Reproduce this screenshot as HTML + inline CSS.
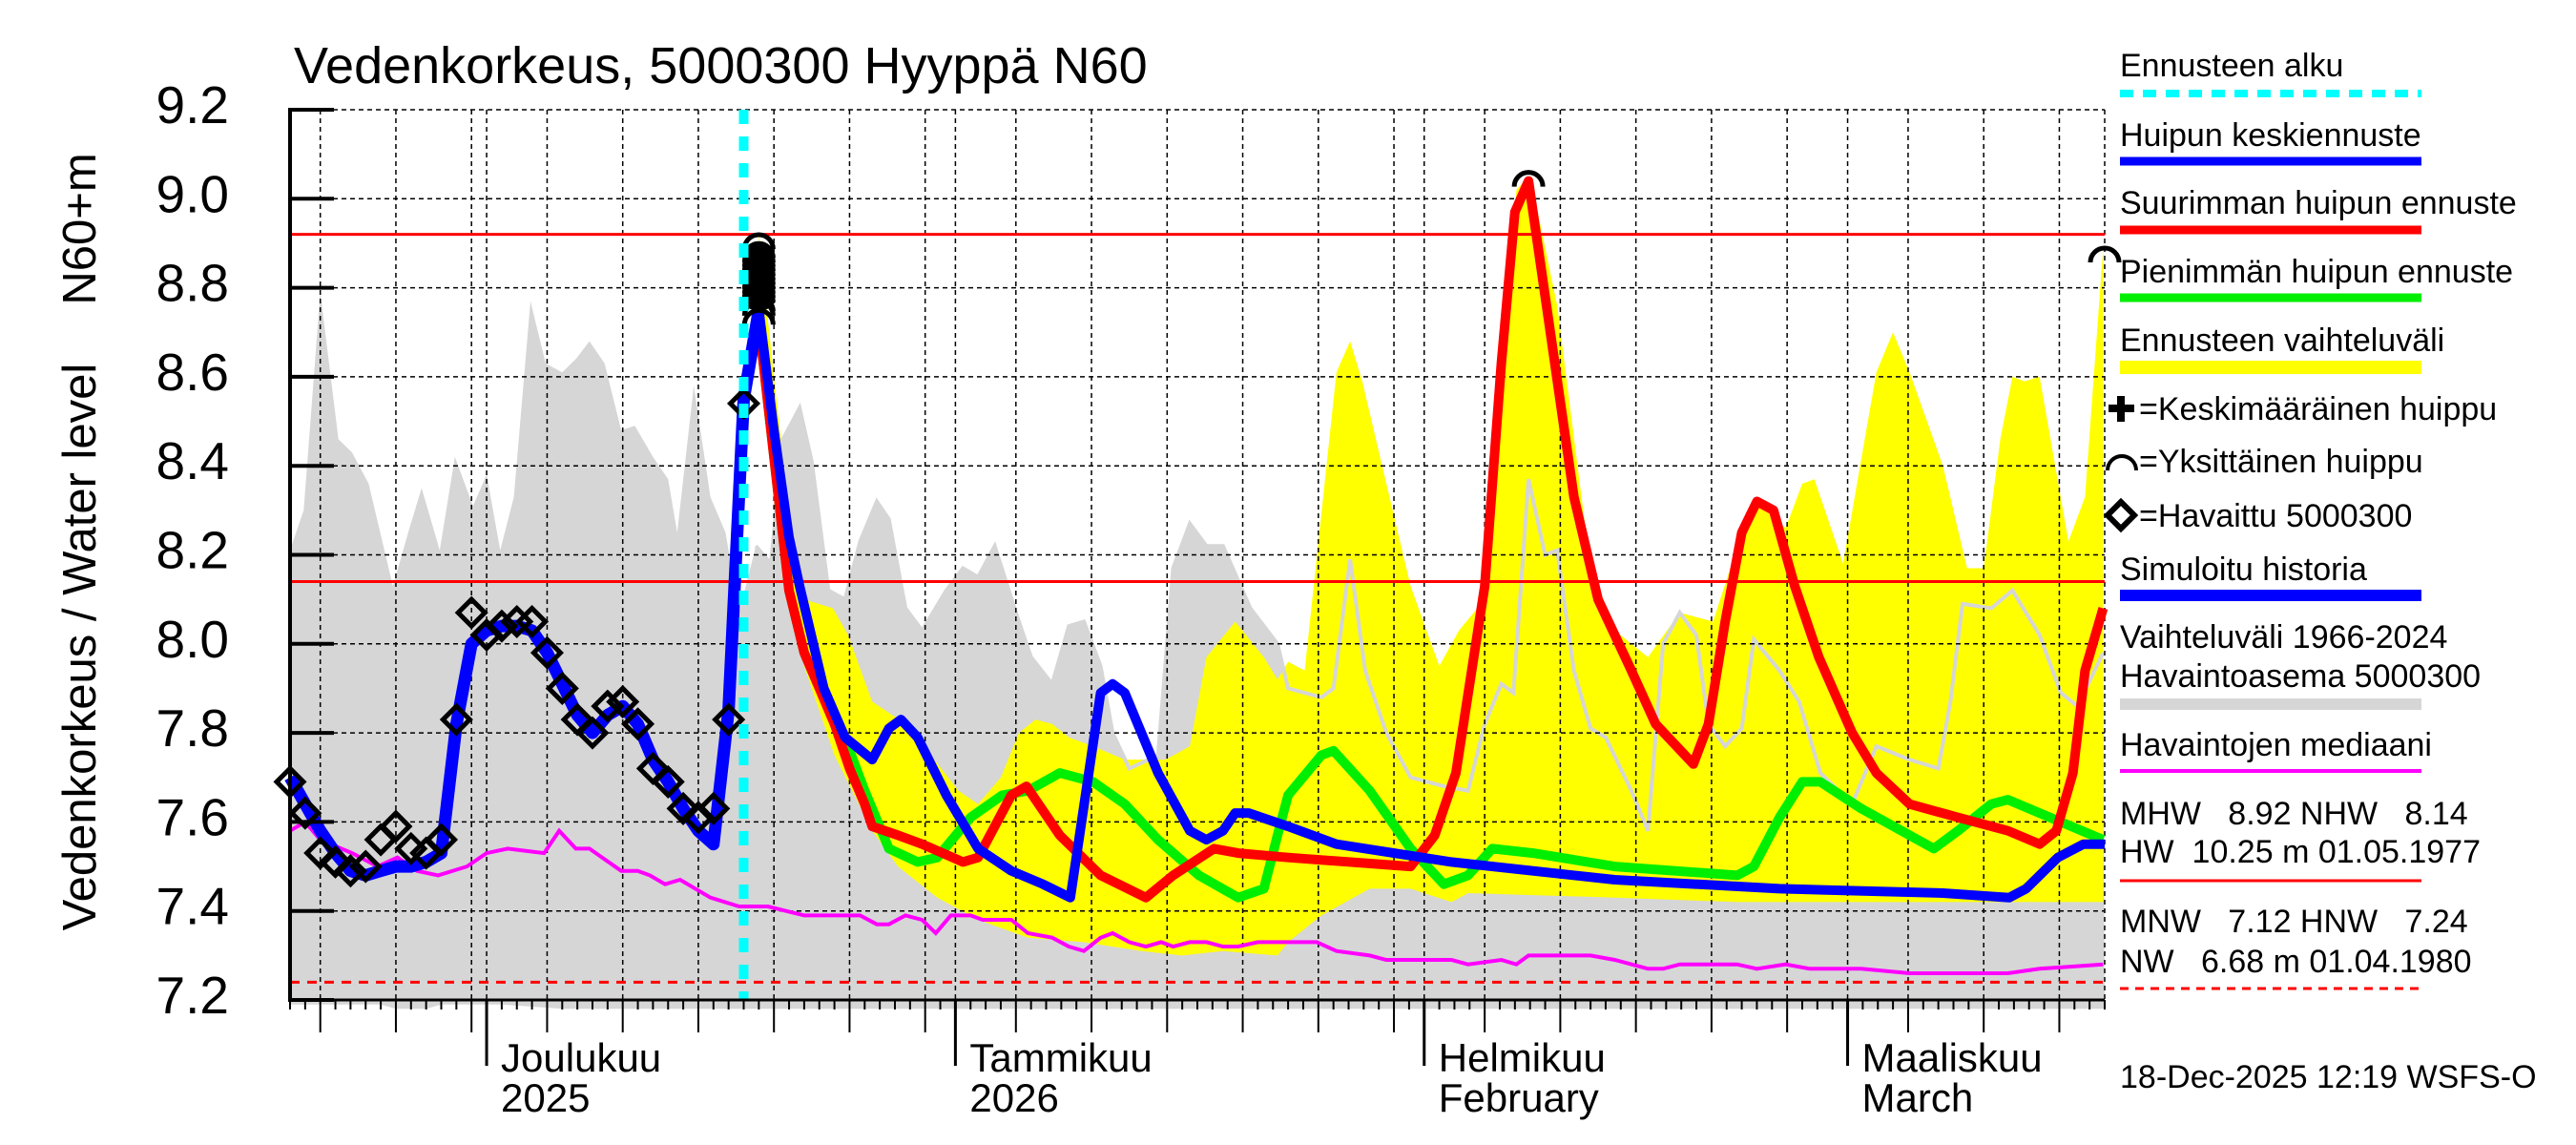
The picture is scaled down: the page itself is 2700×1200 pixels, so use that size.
<!DOCTYPE html>
<html><head><meta charset="utf-8"><style>
html,body{margin:0;padding:0;background:#fff;}
svg{display:block;font-family:"Liberation Sans",sans-serif;}
</style></head><body>
<svg id="chart" width="2700" height="1200" viewBox="0 0 2700 1200" xmlns="http://www.w3.org/2000/svg">
<text x="308" y="87" font-size="54">Vedenkorkeus, 5000300 Hyyppä N60</text>
<text transform="translate(100,678) rotate(-90)" text-anchor="middle" font-size="49">Vedenkorkeus / Water level</text>
<text transform="translate(100,240) rotate(-90)" text-anchor="middle" font-size="49">N60+m</text>
<g id="plot"></g>
<g id="legend"></g>
</svg>
<script>
// ---- data (day index = days since 18 Nov 2025) ----
const obsDays=[0,1,2,3,4,5,6,7,8,9,10,11,12,13,14,15,16,17,18,19,20,21,22,23,24,25,26,27,28,29,30];
const obsVals=[7.69,7.62,7.53,7.51,7.49,7.50,7.56,7.59,7.54,7.53,7.56,7.83,8.07,8.02,8.04,8.05,8.05,7.98,7.90,7.83,7.80,7.86,7.87,7.82,7.72,7.69,7.63,7.61,7.63,7.83,8.54];
const simDays=[0,1,2,3,4,5,6,7,8,9,10,11,12,13,14,15,16,17,18,19,20,21,22,23,24,25,26,27,28,29,30,31];
const simVals=[7.70,7.64,7.58,7.53,7.49,7.48,7.49,7.50,7.50,7.51,7.53,7.82,8.00,8.03,8.04,8.04,8.03,7.98,7.91,7.84,7.80,7.84,7.86,7.82,7.74,7.69,7.63,7.58,7.55,7.85,8.55,8.75];
const meanDays=[31,32,33,33.7,35.3,36.7,38.5,39.6,40.4,41.5,43.4,45.5,47.7,49.8,51.6,53.6,54.4,55.2,57.4,59.5,60.6,61.7,62.5,63.4,66,69.2,76.8,87.6,98.5,109.3,113.7,114.8,116.9,118.6,120];
const meanVals=[8.75,8.48,8.24,8.13,7.90,7.79,7.74,7.81,7.83,7.79,7.66,7.54,7.49,7.46,7.43,7.89,7.91,7.89,7.71,7.58,7.56,7.58,7.62,7.62,7.59,7.55,7.51,7.47,7.45,7.44,7.43,7.45,7.52,7.55,7.55];
const maxDays=[31,32,33,34,35,36,37,38,38.5,40.2,41.8,44.5,45.5,47.7,48.7,50.9,53.6,56.6,58.4,61.1,62.7,66,74.1,75.7,77.1,79,80.1,81,81.9,83.3,84.9,86.5,88.7,90.3,92.8,93.8,94.9,96,97,98.1,99.5,101.1,103.3,104.9,107.1,110.3,113.6,115.7,116.8,117.9,118.7,119.9];
const maxVals=[8.72,8.42,8.12,7.98,7.90,7.82,7.72,7.64,7.59,7.57,7.55,7.51,7.52,7.66,7.68,7.57,7.48,7.43,7.48,7.54,7.53,7.52,7.50,7.57,7.71,8.13,8.63,8.97,9.04,8.71,8.33,8.10,7.94,7.82,7.73,7.82,8.05,8.25,8.32,8.30,8.13,7.97,7.80,7.71,7.64,7.61,7.58,7.55,7.58,7.71,7.94,8.08];
const minDays=[31,32,33,34,35,36,37,38,39.6,41.5,42.8,45,47.1,48.8,50.9,53.1,55.2,57.4,60.1,62.7,64.4,65.3,66,68.2,69,71.4,74.1,76.3,77.9,79.5,82.2,87.6,95.7,96.8,98.5,100,101.2,103.9,108.7,110.3,112.5,113.6,115.7,119.9];
const minVals=[8.72,8.42,8.12,7.98,7.90,7.84,7.76,7.67,7.54,7.51,7.52,7.61,7.66,7.67,7.71,7.69,7.64,7.56,7.48,7.43,7.45,7.57,7.66,7.75,7.76,7.67,7.54,7.46,7.48,7.54,7.53,7.50,7.48,7.50,7.61,7.69,7.69,7.63,7.54,7.58,7.64,7.65,7.62,7.56];
const bandUpDays=[31,32,33,34,35.9,36.9,38.5,40.7,42.6,44.2,45.5,47,48.2,49.3,50.4,51.5,53.1,55.2,57.9,59.5,60.6,62.5,64.4,65.3,66,67.1,69.2,70.1,70.9,72.5,74.1,76,77.3,79,80.1,81.1,81.9,82.2,83.8,86,87.6,89.8,91.9,94.1,96,97,98.9,100,100.8,102.7,104.9,106,107.1,109.3,110.9,112,113.1,113.9,114.7,115.7,117.6,118.7,119.9];
const bandUpVals=[8.92,8.60,8.30,8.10,8.08,8.02,7.87,7.82,7.74,7.67,7.64,7.70,7.80,7.83,7.82,7.79,7.77,7.74,7.74,7.77,7.97,8.05,7.97,7.92,7.96,7.94,8.61,8.68,8.59,8.36,8.13,7.95,8.03,8.10,8.53,9.02,9.05,9.02,8.76,8.17,8.03,7.97,8.07,8.05,8.25,8.32,8.26,8.36,8.37,8.18,8.61,8.70,8.61,8.40,8.17,8.17,8.46,8.60,8.59,8.60,8.23,8.33,8.89];
const bandLoDays=[31,32,33,34,36,38.5,40.2,42.8,45.5,48.8,52.5,56.3,59,61.7,65.3,66,68.2,71.4,74.1,76.8,77.9,87.6,95.7,103.9,119.9];
const bandLoVals=[8.72,8.42,8.10,7.95,7.75,7.58,7.50,7.43,7.38,7.34,7.33,7.31,7.30,7.31,7.30,7.33,7.39,7.45,7.45,7.42,7.44,7.43,7.42,7.42,7.42];
const histMaxDays=[0,0.9,2,3.2,4.1,5.2,6.8,7.9,8.7,9.9,10.9,12.1,13,13.9,14.8,15.9,16.9,18,18.9,19.8,20.8,21.9,22.8,24,25,25.6,26.7,27.8,28.8,29.7,30.8,31.8,32.6,33.7,34.5,35.6,36.7,37.7,38.8,39.6,40.7,41.8,43.4,44.5,45.5,46.6,48,49,50.4,51.5,52.5,53.6,54.4,55.5,57.4,58.4,59.5,60.6,61.7,63.5,65.3,66,68.2,69,70.1,71.1,72.5,74.1,76.3,77.9,79,80.1,80.9,81.9,83,83.8,84.9,86,87,88.7,89.8,90.8,91.9,93,93.8,94.9,96,96.8,98.5,99.8,101.2,103.3,104.9,107.1,109,109.8,110.6,112.5,113.9,115.7,117.1,118.2,119.9];
const histMaxVals=[8.21,8.30,8.79,8.46,8.43,8.36,8.13,8.26,8.35,8.21,8.42,8.31,8.38,8.21,8.33,8.77,8.63,8.61,8.64,8.68,8.63,8.48,8.49,8.42,8.37,8.25,8.58,8.33,8.25,8.07,8.22,8.18,8.46,8.53,8.41,8.12,8.10,8.23,8.32,8.28,8.08,8.03,8.12,8.17,8.15,8.22,8.07,7.97,7.91,8.04,8.05,7.95,7.80,7.72,7.75,8.17,8.27,8.22,8.22,8.08,8.00,7.90,7.88,7.90,8.19,7.94,7.80,7.70,7.68,7.67,7.82,7.91,7.89,8.37,8.20,8.21,7.94,7.81,7.79,7.67,7.58,8.00,8.07,8.02,7.82,7.77,7.81,8.01,7.94,7.87,7.71,7.64,7.77,7.74,7.72,7.87,8.09,8.08,8.12,8.02,7.89,7.86,7.98];
const histMinDays=[0,6,7,9,10,14,18,20,120];
const histMinVals=[7.19,7.19,7.18,7.18,7.19,7.19,7.18,7.18,7.18];
const medDays=[0,1,2,4.1,5.8,7.1,8.4,9.8,11.7,13,14.4,16.8,17.8,18.9,19.8,21.9,23,23.8,24.8,25.8,27.8,29.7,31.6,34,37.7,38.8,39.6,40.7,41.8,42.7,43.7,45,45.8,47.7,48.8,50.4,51.5,52.5,53.6,54.4,55.5,56.6,57.6,58.4,59.5,60.6,61.7,62.7,64,65.3,67.9,69.2,71.4,72.5,76.8,77.9,80.1,81.1,81.9,86,87.6,89.8,90.8,91.9,95.7,97,98.9,100.5,103.9,107.1,113.6,115.7,119.9];
const medVals=[7.58,7.60,7.56,7.53,7.50,7.52,7.49,7.48,7.50,7.53,7.54,7.53,7.58,7.54,7.54,7.49,7.49,7.48,7.46,7.47,7.43,7.41,7.41,7.39,7.39,7.37,7.37,7.39,7.38,7.35,7.39,7.39,7.38,7.38,7.35,7.34,7.32,7.31,7.34,7.35,7.33,7.32,7.33,7.32,7.33,7.33,7.32,7.32,7.33,7.33,7.33,7.31,7.30,7.29,7.29,7.28,7.29,7.28,7.30,7.30,7.29,7.27,7.27,7.28,7.28,7.27,7.28,7.27,7.27,7.26,7.26,7.27,7.28];
const peakDays=[31,31,31,31,31,31,31,31,31,31,31,31,31,31,31,81.9,120];
const peakVals=[8.73,8.75,8.76,8.78,8.79,8.80,8.81,8.82,8.83,8.84,8.85,8.86,8.87,8.88,8.90,9.04,8.87];
const levelVals=[8.92,8.14];
const hnwVal=7.24;
const forecastStartDay=30;
const yTicks=["7.2","7.4","7.6","7.8","8.0","8.2","8.4","8.6","8.8","9.0","9.2"];
const monthLabels=[["Joulukuu","2025"],["Tammikuu","2026"],["Helmikuu","February"],["Maaliskuu","March"]];
const monthDays=[13,44,75,103];

// ---- scales ----
const X0=304,X1=2206,Y0=1048,Y1=115,DMAX=120,VMIN=7.2,VMAX=9.2;
const X=d=>X0+d*(X1-X0)/DMAX;
const Y=v=>Y0-(v-VMIN)*(Y0-Y1)/(VMAX-VMIN);
const NS="http://www.w3.org/2000/svg";
const plot=document.getElementById('plot');
const leg=document.getElementById('legend');
function mk(tag,attrs,parent){const e=document.createElementNS(NS,tag);for(const k in attrs)e.setAttribute(k,attrs[k]);(parent||plot).appendChild(e);return e;}
const pts=(ds,vs)=>ds.map((d,i)=>X(d).toFixed(1)+','+Y(vs[i]).toFixed(1)).join(' ');

let e=mk('polygon',{points:pts(histMaxDays,histMaxVals)+' '+pts(histMinDays.slice().reverse(),histMinVals.slice().reverse()),fill:'#d6d6d6'});


e=mk('polygon',{points:pts(bandUpDays,bandUpVals)+' '+pts(bandLoDays.slice().reverse(),bandLoVals.slice().reverse()),fill:'#ffff00'});


const hi=histMaxDays.findIndex(d=>d>=forecastStartDay);
e=mk('polyline',{points:pts(histMaxDays.slice(hi),histMaxVals.slice(hi)),fill:'none',stroke:'#d6d6d6','stroke-width':4});



for(let i=1;i<yTicks.length;i++){const v=parseFloat(yTicks[i]);
 e=mk('line',{x1:X0,x2:X1,y1:Y(v),y2:Y(v),stroke:'#000','stroke-width':1.5,'stroke-dasharray':'5,4'});
 
 }
const start=new Date(2025,10,18);
for(let d=0;d<=DMAX;d++){
 const dt=new Date(start.getTime()+d*86400000);const dd=dt.getDate();
 const isMonth=dd===1, isGrid=[5,10,15,20,25,30].includes(dd);
 if((isMonth||isGrid)&&d>0&&d<DMAX){
  e=mk('line',{x1:X(d),x2:X(d),y1:Y1,y2:Y0,stroke:'#000','stroke-width':1.5,'stroke-dasharray':'5,4'});
  
  }
 const len=isMonth?69:(isGrid?34:10);
 e=mk('line',{x1:X(d),x2:X(d),y1:Y0,y2:Y0+len,stroke:'#000','stroke-width':isMonth?3:2});
 
 
}
e=mk('line',{x1:X1,x2:X1,y1:Y1,y2:Y0,stroke:'#000','stroke-width':1.5,'stroke-dasharray':'5,4'});



levelVals.forEach(v=>{e=mk('line',{x1:X0,x2:X1,y1:Y(v),y2:Y(v),stroke:'#ff0000','stroke-width':3});
 
 });
e=mk('line',{x1:X0,x2:X1,y1:Y(hnwVal),y2:Y(hnwVal),stroke:'#ff0000','stroke-width':3,'stroke-dasharray':'10,8'});



e=mk('polyline',{points:pts(medDays,medVals),fill:'none',stroke:'#ff00ff','stroke-width':4});



e=mk('polyline',{points:pts(minDays,minVals),fill:'none',stroke:'#00ee00','stroke-width':10,'stroke-linejoin':'round'});


e=mk('polyline',{points:pts(maxDays,maxVals),fill:'none',stroke:'#ff0000','stroke-width':10,'stroke-linejoin':'round'});


e=mk('polyline',{points:pts(meanDays,meanVals),fill:'none',stroke:'#0000ff','stroke-width':10,'stroke-linejoin':'round'});


e=mk('polyline',{points:pts(simDays,simVals),fill:'none',stroke:'#0000ff','stroke-width':13,'stroke-linejoin':'round'});



obsDays.forEach((d,i)=>{const x=X(d),y=Y(obsVals[i]),r=14;
 e=mk('polygon',{points:`${x},${y-r} ${x+r},${y} ${x},${y+r} ${x-r},${y}`,fill:'none',stroke:'#000','stroke-width':5});
 
 });

// black blob of clustered peak markers
e=mk('rect',{x:X(31)-16,y:Y(8.87),width:32,height:Y(8.75)-Y(8.87),rx:12,fill:'#000'});


peakDays.forEach((d,i)=>{const x=X(d),y=Y(peakVals[i]),r=15;
 e=mk('path',{d:`M${x-r},${y+6} A${r},${r} 0 0 1 ${x+r},${y+6}`,fill:'none',stroke:'#000','stroke-width':5});
 
 });

e=mk('line',{x1:X(forecastStartDay),x2:X(forecastStartDay),y1:Y1,y2:Y0,stroke:'#00ffff','stroke-width':10,'stroke-dasharray':'15,13'});



e=mk('line',{x1:X0,x2:X0,y1:Y1-2,y2:Y0+2,stroke:'#000','stroke-width':4});


e=mk('line',{x1:X0,x2:X1,y1:Y0,y2:Y0,stroke:'#000','stroke-width':3});


yTicks.forEach(t=>{const v=parseFloat(t);
 e=mk('line',{x1:X0,x2:X0+46,y1:Y(v),y2:Y(v),stroke:'#000','stroke-width':4});
 
 
 e=mk('text',{x:240,y:Y(v)+14,'text-anchor':'end','font-size':55});
 e.textContent=t;
 
 });
monthDays.forEach((d,i)=>{
 e=mk('text',{x:X(d)+15,y:1123,'font-size':42});e.textContent=monthLabels[i][0];
 
 
 e=mk('text',{x:X(d)+15,y:1165,'font-size':42});e.textContent=monthLabels[i][1];
 
 });

const LX=2222,LX2=2538;
function ltext(t,y,name){const el=mk('text',{x:LX,y:y,'font-size':34},leg);el.textContent=t;return el;}
function lline(y,col,w,dash,name){const el=mk('line',{x1:LX,x2:LX2,y1:y,y2:y,stroke:col,'stroke-width':w},leg);if(dash)el.setAttribute('stroke-dasharray',dash);}
ltext('Ennusteen alku',80,'legend-forecast-start');lline(98,'#00ffff',8,'14,10','legend-forecast-start-line');
ltext('Huipun keskiennuste',153,'legend-mean-peak');lline(169,'#0000ff',9,null,'legend-mean-peak-line');
ltext('Suurimman huipun ennuste',224,'legend-max-peak');lline(241,'#ff0000',9,null,'legend-max-peak-line');
ltext('Pienimmän huipun ennuste',296,'legend-min-peak');lline(312,'#00ee00',9,null,'legend-min-peak-line');
ltext('Ennusteen vaihteluväli',368,'legend-forecast-range');lline(385,'#ffff00',14,null,'legend-forecast-range-swatch');
e=mk('path',{d:'M2210,428 h27 M2223,415 v27',stroke:'#000','stroke-width':8,fill:'none'},leg);


e=mk('text',{x:2242,y:440,'font-size':34},leg);e.textContent='=Keskimääräinen huippu';


e=mk('path',{d:'M2209,493 A15,15 0 0 1 2239,493',stroke:'#000','stroke-width':4,fill:'none'},leg);


e=mk('text',{x:2242,y:495,'font-size':34},leg);e.textContent='=Yksittäinen huippu';


e=mk('polygon',{points:'2223,526 2237,540 2223,554 2209,540',stroke:'#000','stroke-width':6,fill:'none'},leg);


e=mk('text',{x:2242,y:552,'font-size':34},leg);e.textContent='=Havaittu 5000300';


ltext('Simuloitu historia',608,'legend-simulated');lline(624,'#0000ff',12,null,'legend-simulated-line');
ltext('Vaihteluväli 1966-2024',679,'legend-historic-range');
ltext('Havaintoasema 5000300',720,'legend-historic-station');lline(738,'#d6d6d6',12,null,'legend-historic-range-swatch');
ltext('Havaintojen mediaani',792,'legend-median');lline(808,'#ff00ff',4,null,'legend-median-line');
ltext('MHW   8.92 NHW   8.14',864,'legend-mhw').setAttribute('xml:space','preserve');
ltext('HW  10.25 m 01.05.1977',904,'legend-hw').setAttribute('xml:space','preserve');
lline(923,'#ff0000',3,null,'legend-hw-line');
ltext('MNW   7.12 HNW   7.24',977,'legend-mnw').setAttribute('xml:space','preserve');
ltext('NW   6.68 m 01.04.1980',1019,'legend-nw').setAttribute('xml:space','preserve');
lline(1036,'#ff0000',3,'9,7','legend-nw-line');
ltext('18-Dec-2025 12:19 WSFS-O',1140,'timestamp');
document.querySelectorAll('#legend text').forEach(t=>t.style.whiteSpace='pre');
</script>
</body></html>
